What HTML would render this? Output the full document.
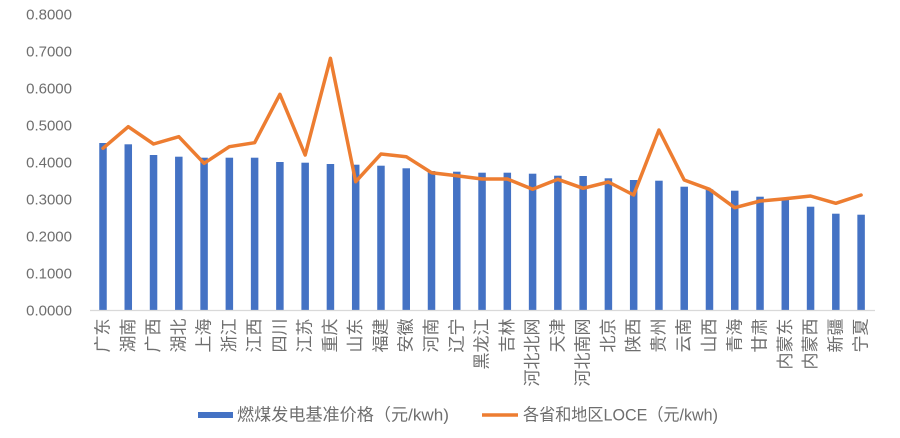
<!DOCTYPE html>
<html>
<head>
<meta charset="utf-8">
<style>
html,body{margin:0;padding:0;background:#fff;}
svg{display:block;}
text{font-family:"Liberation Sans","Noto Sans CJK SC",sans-serif;fill:#6e6e6e;}
</style>
</head>
<body>
<svg width="900" height="438" viewBox="0 0 900 438" xmlns="http://www.w3.org/2000/svg">
<rect width="900" height="438" fill="#fff"/>
<!-- y axis labels -->
<g font-size="15" text-anchor="end" dominant-baseline="central">
<text x="72" y="15">0.8000</text>
<text x="72" y="52">0.7000</text>
<text x="72" y="89">0.6000</text>
<text x="72" y="126">0.5000</text>
<text x="72" y="163">0.4000</text>
<text x="72" y="200">0.3000</text>
<text x="72" y="237">0.2000</text>
<text x="72" y="274">0.1000</text>
<text x="72" y="311">0.0000</text>
</g>
<!-- bars -->
<g fill="#4472C4">
<rect x="99.25" y="143" width="7.5" height="167"/>
<rect x="124.52" y="144.3" width="7.5" height="165.7"/>
<rect x="149.79" y="155" width="7.5" height="155"/>
<rect x="175.06" y="156.7" width="7.5" height="153.3"/>
<rect x="200.33" y="157.7" width="7.5" height="152.3"/>
<rect x="225.6" y="157.7" width="7.5" height="152.3"/>
<rect x="250.87" y="157.7" width="7.5" height="152.3"/>
<rect x="276.14" y="162" width="7.5" height="148"/>
<rect x="301.41" y="162.7" width="7.5" height="147.3"/>
<rect x="326.68" y="164" width="7.5" height="146"/>
<rect x="351.95" y="164.7" width="7.5" height="145.3"/>
<rect x="377.22" y="165.7" width="7.5" height="144.3"/>
<rect x="402.49" y="168.3" width="7.5" height="141.7"/>
<rect x="427.76" y="171" width="7.5" height="139"/>
<rect x="453.03" y="171.7" width="7.5" height="138.3"/>
<rect x="478.3" y="172.7" width="7.5" height="137.3"/>
<rect x="503.57" y="172.7" width="7.5" height="137.3"/>
<rect x="528.84" y="173.7" width="7.5" height="136.3"/>
<rect x="554.11" y="175.7" width="7.5" height="134.3"/>
<rect x="579.38" y="176" width="7.5" height="134"/>
<rect x="604.65" y="178.3" width="7.5" height="131.7"/>
<rect x="629.92" y="180" width="7.5" height="130"/>
<rect x="655.19" y="180.7" width="7.5" height="129.3"/>
<rect x="680.46" y="186.7" width="7.5" height="123.3"/>
<rect x="705.73" y="189.3" width="7.5" height="120.7"/>
<rect x="731" y="190.7" width="7.5" height="119.3"/>
<rect x="756.27" y="196.7" width="7.5" height="113.3"/>
<rect x="781.54" y="199.3" width="7.5" height="110.7"/>
<rect x="806.81" y="206.7" width="7.5" height="103.3"/>
<rect x="832.08" y="213.7" width="7.5" height="96.3"/>
<rect x="857.35" y="214.7" width="7.5" height="95.3"/>
</g>
<!-- axis line -->
<line x1="90" y1="310.5" x2="875" y2="310.5" stroke="#D9D9D9" stroke-width="1.2"/>
<!-- line series -->
<polyline fill="none" stroke="#ED7D31" stroke-width="3.5" stroke-linejoin="round" stroke-linecap="round"
points="103,148.3 128.27,126.7 153.54,144 178.81,136.7 204.08,163.3 229.35,146.7 254.62,142.7 279.89,94.3 305.16,155 330.43,58.3 355.7,181.7 380.97,154 406.24,156.7 431.51,172.7 456.78,175.7 482.05,179 507.32,179 532.59,189.3 557.86,179.3 583.13,188.3 608.4,182 633.67,195 658.94,130 684.21,180 709.48,189.3 734.75,207.7 760.02,201 785.29,198.7 810.56,196 835.83,203.3 861.1,195"/>
<!-- x labels -->
<g font-size="17" text-anchor="end" dominant-baseline="central">
<text transform="translate(103,318.5) rotate(-90)">广东</text>
<text transform="translate(128.27,318.5) rotate(-90)">湖南</text>
<text transform="translate(153.54,318.5) rotate(-90)">广西</text>
<text transform="translate(178.81,318.5) rotate(-90)">湖北</text>
<text transform="translate(204.08,318.5) rotate(-90)">上海</text>
<text transform="translate(229.35,318.5) rotate(-90)">浙江</text>
<text transform="translate(254.62,318.5) rotate(-90)">江西</text>
<text transform="translate(279.89,318.5) rotate(-90)">四川</text>
<text transform="translate(305.16,318.5) rotate(-90)">江苏</text>
<text transform="translate(330.43,318.5) rotate(-90)">重庆</text>
<text transform="translate(355.7,318.5) rotate(-90)">山东</text>
<text transform="translate(380.97,318.5) rotate(-90)">福建</text>
<text transform="translate(406.24,318.5) rotate(-90)">安徽</text>
<text transform="translate(431.51,318.5) rotate(-90)">河南</text>
<text transform="translate(456.78,318.5) rotate(-90)">辽宁</text>
<text transform="translate(482.05,318.5) rotate(-90)">黑龙江</text>
<text transform="translate(507.32,318.5) rotate(-90)">吉林</text>
<text transform="translate(532.59,318.5) rotate(-90)">河北北网</text>
<text transform="translate(557.86,318.5) rotate(-90)">天津</text>
<text transform="translate(583.13,318.5) rotate(-90)">河北南网</text>
<text transform="translate(608.4,318.5) rotate(-90)">北京</text>
<text transform="translate(633.67,318.5) rotate(-90)">陕西</text>
<text transform="translate(658.94,318.5) rotate(-90)">贵州</text>
<text transform="translate(684.21,318.5) rotate(-90)">云南</text>
<text transform="translate(709.48,318.5) rotate(-90)">山西</text>
<text transform="translate(734.75,318.5) rotate(-90)">青海</text>
<text transform="translate(760.02,318.5) rotate(-90)">甘肃</text>
<text transform="translate(785.29,318.5) rotate(-90)">内蒙东</text>
<text transform="translate(810.56,318.5) rotate(-90)">内蒙西</text>
<text transform="translate(835.83,318.5) rotate(-90)">新疆</text>
<text transform="translate(861.1,318.5) rotate(-90)">宁夏</text>
</g>
<!-- legend -->
<rect x="198" y="412" width="35" height="6" fill="#4472C4"/>
<text x="237" y="420.5" font-size="17" textLength="212" lengthAdjust="spacingAndGlyphs">燃煤发电基准价格（元/kwh)</text>
<line x1="482" y1="415" x2="518" y2="415" stroke="#ED7D31" stroke-width="3.5"/>
<text x="523" y="420.5" font-size="17" textLength="195" lengthAdjust="spacingAndGlyphs">各省和地区LOCE（元/kwh)</text>
</svg>
</body>
</html>
